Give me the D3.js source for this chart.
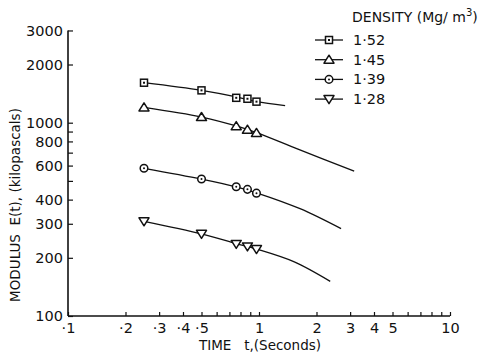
<!DOCTYPE html>
<html>
<head>
<meta charset="utf-8">
<script src="https://cdn.jsdelivr.net/npm/d3@7"></script>
<style>
  body { margin: 0; background: #fff; }
  svg text { font-family: "DejaVu Sans", sans-serif; fill: #111; white-space: pre; }
</style>
</head>
<body>
<div class="chart-box"></div>
<script>
// data
var densities = ["1·52", "1·45", "1·39", "1·28"];
var shapes = ["square", "triangle", "circle", "triangleDown"];

var markT = [0.25, 0.5, 0.76, 0.87, 0.97];
var markE152 = [1610, 1470, 1345, 1330, 1285];
var markE145 = [1200, 1070, 960, 920, 885];
var markE139 = [581, 511, 466, 452, 432];
var markE128 = [309, 266, 236, 229, 222];

// fitted lines drawn through the points
var fitT152 = [0.25, 0.5, 0.76, 0.97, 1.37];
var fitE152 = [1610, 1470, 1360, 1285, 1225];
var fitT145 = [0.25, 0.5, 0.76, 0.97, 1.6, 3.15];
var fitE145 = [1200, 1070, 962, 888, 730, 562];
var fitT139 = [0.25, 0.5, 0.76, 0.97, 1.64, 2.69];
var fitE139 = [581, 511, 466, 434, 359, 283];
var fitT128 = [0.25, 0.5, 0.76, 0.97, 1.52, 2.36];
var fitE128 = [309, 266, 237, 222, 191, 151];

var xTicks = [0.1, 0.2, 0.3, 0.4, 0.5, 0.6, 0.7, 0.8, 0.9, 1, 2, 3, 4, 5, 6, 7, 8, 9, 10];
var xLabels = { 0.1: "·1", 0.2: "·2", 0.3: "·3", 0.4: "·4", 0.5: "·5", 1: "1", 2: "2", 3: "3", 4: "4", 5: "5", 10: "10" };
var yTicks = [100, 200, 300, 400, 500, 600, 700, 800, 900, 1000, 2000, 3000];
var yLabels = { 100: "100", 200: "200", 300: "300", 400: "400", 600: "600", 800: "800", 1000: "1000", 2000: "2000", 3000: "3000" };

var marks = [markE152, markE145, markE139, markE128];
var fits = [[fitT152, fitE152], [fitT145, fitE145], [fitT139, fitE139], [fitT128, fitE128]];

var width = 490, height = 357;

var svg = d3.select(".chart-box").append("svg")
    .attr("width", width)
    .attr("height", height);

var x = d3.scaleLog().domain([0.1, 10]).range([68, 450]);
var y = d3.scaleLog().domain([100, 3000]).range([316, 316 - 193.3 * Math.log10(30)]);

// axes
var xAxis = d3.axisBottom(x)
    .tickValues(xTicks)
    .tickSize(-4)
    .tickPadding(10)
    .tickFormat(function(d) { return xLabels[d] || ""; });

var yAxis = d3.axisLeft(y)
    .tickValues(yTicks)
    .tickSize(-5)
    .tickPadding(5)
    .tickFormat(function(d) { return yLabels[d] || ""; });

var gx = svg.append("g")
    .attr("transform", "translate(0," + y(100) + ")")
    .call(xAxis);
var gy = svg.append("g")
    .attr("transform", "translate(" + x(0.1) + ",0)")
    .call(yAxis);

[gx, gy].forEach(function(g) {
  g.select(".domain").attr("stroke", "#111").attr("stroke-width", 1.6);
  g.selectAll(".tick line").attr("stroke", "#111").attr("stroke-width", 1.2);
  g.selectAll(".tick text")
      .style("font-family", "DejaVu Sans, sans-serif")
      .style("font-size", "14.5px")
      .attr("fill", "#111");
});
gx.select(".domain").attr("d", "M" + x(0.1) + ",0H" + x(10));
gy.select(".domain").attr("d", "M0," + y(3000) + "V" + y(100));
gx.selectAll(".tick text").attr("dy", "0.5em");

// axis titles
svg.append("text")
    .attr("x", 260)
    .attr("y", 350)
    .attr("text-anchor", "middle")
    .style("font-size", "13.5px")
    .text("TIME   t,(Seconds)");

svg.append("text")
    .attr("transform", "translate(20,205) rotate(-90)")
    .attr("text-anchor", "middle")
    .style("font-size", "13.5px")
    .text("MODULUS  E(t), (kilopascals)");

// markers
function drawMarker(g, shape, cx, cy) {
  if (shape == "square") {
    g.append("rect")
        .attr("x", cx - 3.5).attr("y", cy - 3.5)
        .attr("width", 7).attr("height", 7)
        .attr("fill", "#fff").attr("stroke", "#111").attr("stroke-width", 1.5);
    g.append("rect")
        .attr("x", cx - 1).attr("y", cy - 1).attr("width", 2).attr("height", 2)
        .attr("fill", "#111");
  } else if (shape == "circle") {
    g.append("circle")
        .attr("cx", cx).attr("cy", cy).attr("r", 3.8)
        .attr("fill", "#fff").attr("stroke", "#111").attr("stroke-width", 1.5);
    g.append("circle")
        .attr("cx", cx).attr("cy", cy).attr("r", 1)
        .attr("fill", "#111");
  } else {
    var s = shape == "triangle" ? 1 : -1;
    g.append("path")
        .attr("d", "M" + cx + "," + (cy - 4.5 * s) +
                   "L" + (cx + 5) + "," + (cy + 3.5 * s) +
                   "L" + (cx - 5) + "," + (cy + 3.5 * s) + "Z")
        .attr("fill", "#fff").attr("stroke", "#111").attr("stroke-width", 1.5)
        .attr("stroke-linejoin", "round");
  }
}

var line = d3.line()
    .x(function(d) { return x(d[0]); })
    .y(function(d) { return y(d[1]); })
    .curve(d3.curveCatmullRom.alpha(0.5));

fits.forEach(function(f, i) {
  var pts = f[0].map(function(t, j) { return [t, f[1][j]]; });
  svg.append("path")
      .datum(pts)
      .attr("d", line)
      .attr("fill", "none")
      .attr("stroke", "#111")
      .attr("stroke-width", 1.3);
});

marks.forEach(function(vals, i) {
  var g = svg.append("g");
  vals.forEach(function(v, j) {
    drawMarker(g, shapes[i], x(markT[j]), y(v));
  });
});

// legend
svg.append("text")
    .attr("x", 352)
    .attr("y", 22)
    .style("font-size", "14px")
    .html("DENSITY (Mg/ m<tspan dy='-6' font-size='10px'>3</tspan><tspan dy='6'>)</tspan>");

densities.forEach(function(d, i) {
  var ly = 40 + i * 19.7;
  svg.append("line")
      .attr("x1", 315).attr("x2", 343)
      .attr("y1", ly).attr("y2", ly)
      .attr("stroke", "#111").attr("stroke-width", 1.3);
  drawMarker(svg.append("g"), shapes[i], 329, ly);
  svg.append("text")
      .attr("x", 353)
      .attr("y", ly + 5)
      .style("font-size", "14.5px")
      .text(d);
});
</script>
</body>
</html>
